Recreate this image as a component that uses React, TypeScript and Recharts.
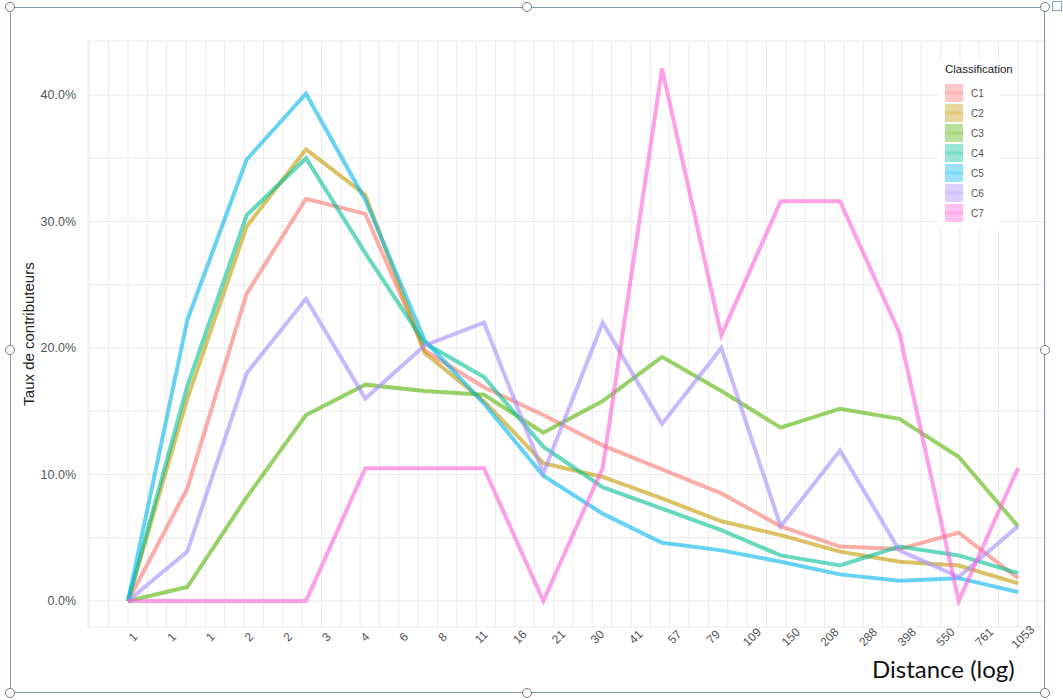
import React from "react";
import { LineChart, Line, XAxis, YAxis, CartesianGrid } from "recharts";

// distance classes (16 plotted points)
const steps = [1, 2, 3, 4, 5, 6, 7, 8, 9, 10, 11, 12, 13, 14, 15, 16];

// axis labels shown under the plot
const distanceLabels = [
    "1", "1", "1", "2", "2", "3", "4", "6", "8", "11", "16", "21",
    "30", "41", "57", "79", "109", "150", "208", "288", "398", "550", "761", "1053",
];

const yTicks = [0, 5, 10, 15, 20, 25, 30, 35, 40];

// taux de contributeurs, in %
const c1 = [0, 8.9, 24.3, 31.8, 30.6, 19.8, 16.9, 14.7, 12.3, 10.4, 8.5, 5.9, 4.3, 4.1, 5.4, 1.8];
const c2 = [0, 16.0, 29.6, 35.7, 32.1, 19.6, 15.8, 10.9, 9.8, 8.1, 6.3, 5.2, 3.9, 3.1, 2.8, 1.4];
const c3 = [0, 1.1, 8.2, 14.7, 17.1, 16.6, 16.3, 13.3, 15.8, 19.3, 16.6, 13.7, 15.2, 14.4, 11.4, 5.9];
const c4 = [0, 17.0, 30.5, 35.0, 27.5, 20.4, 17.7, 12.2, 9.0, 7.3, 5.6, 3.6, 2.8, 4.3, 3.6, 2.2];
const c5 = [0, 22.2, 34.9, 40.1, 31.7, 20.6, 15.6, 9.9, 6.9, 4.6, 4.0, 3.1, 2.1, 1.6, 1.8, 0.7];
const c6 = [0, 3.9, 18.0, 23.9, 16.0, 20.2, 22.0, 10.1, 22.0, 14.0, 20.0, 5.9, 11.9, 4.0, 1.9, 5.9];
const c7 = [0, 0, 0, 0, 10.5, 10.5, 10.5, 0, 10.5, 42.1, 21.0, 31.6, 31.6, 21.2, 0, 10.5];

const seriesNames = ["C1", "C2", "C3", "C4", "C5", "C6", "C7"];
const seriesColors = ["#F8766D", "#C49A00", "#53B400", "#00C094", "#00B6EB", "#A58AFF", "#FB61D7"];
const seriesValues = [c1, c2, c3, c4, c5, c6, c7];

const data = steps.map((step, i) => {
    const row: Record<string, number> = { step };
    seriesNames.forEach((name, s) => {
        row[name] = seriesValues[s][i];
    });
    return row;
});

// grid every half label step
const gridTicks = Array.from({ length: 50 }, (_, k) => -1 + k / 2);

const font = '"Liberation Sans", Arial, sans-serif';

const DistanceTick = ({ x, y, payload }: any) => {
    const v = payload.value;
    if (!Number.isInteger(v) || v < 0 || v >= distanceLabels.length) return <g />;
    return (
        <g transform={`translate(${x + 5},${y + 10})`}>
            <text
                textAnchor="middle"
                dominantBaseline="central"
                transform="rotate(-45)"
                fontSize={12}
                fill="#555"
                fontFamily={font}
            >
                {distanceLabels[v]}
            </text>
        </g>
    );
};

const YTitle = (props: any) => {
    const vb = props.viewBox;
    return (
        <text
            transform={`translate(${vb.x + 28},${vb.y + vb.height / 2}) rotate(-90)`}
            textAnchor="middle"
            dominantBaseline="central"
            fontSize={15}
            fill="#222"
            fontFamily={font}
        >
            Taux de contributeurs
        </text>
    );
};

const handles = [
    [10, 7], [527, 7], [1045, 7],
    [10, 350], [1045, 350],
    [10, 693], [527, 693], [1045, 693],
];

export default function App() {
    return (
        <div style={{ position: "absolute", left: 0, top: 0, width: 1063, height: 700, background: "#fff", overflow: "hidden" }}>
            <LineChart width={1063} height={700} data={data} margin={{ top: 41, right: 18, bottom: 43, left: 0 }}>
                <CartesianGrid xAxisId="lab" stroke="#ebebeb" strokeWidth={1} />
                <XAxis
                    xAxisId="lab"
                    dataKey="step"
                    type="number"
                    domain={[-1.034, 23.7]}
                    allowDataOverflow
                    ticks={gridTicks}
                    interval={0}
                    tick={<DistanceTick />}
                    tickLine={false}
                    axisLine={false}
                    tickSize={0}
                    tickMargin={0}
                    height={30}
                />
                <XAxis
                    xAxisId="pts"
                    dataKey="step"
                    type="category"
                    scale="point"
                    padding={{ left: 40, right: 27 }}
                    hide
                    height={0}
                />
                <YAxis
                    type="number"
                    domain={[-2.06, 44.27]}
                    allowDataOverflow
                    ticks={yTicks}
                    interval={0}
                    width={88}
                    tickFormatter={(v: number) => (v % 10 === 0 ? `${v.toFixed(1)}%` : "")}
                    tick={{ fill: "#555", fontSize: 12.5, fontFamily: font }}
                    tickLine={false}
                    axisLine={false}
                    tickSize={0}
                    tickMargin={12}
                    label={{ content: <YTitle /> }}
                />
                {seriesNames.map((name, s) => (
                    <Line
                        key={name}
                        xAxisId="pts"
                        type="linear"
                        dataKey={name}
                        stroke={seriesColors[s]}
                        strokeOpacity={0.6}
                        strokeWidth={4}
                        dot={false}
                        activeDot={false}
                        isAnimationActive={false}
                    />
                ))}
            </LineChart>

            {/* legend */}
            <div style={{ position: "absolute", left: 938, top: 62, width: 62, background: "#fff", fontFamily: font, paddingBottom: 4 }}>
                <div style={{ fontSize: 11.5, color: "#222", marginLeft: 7, height: 21, lineHeight: "14px", whiteSpace: "nowrap" }}>
                    Classification
                </div>
                {seriesNames.map((name, s) => (
                    <div key={name} style={{ display: "flex", alignItems: "center", height: 20 }}>
                        <svg width={18} height={20} style={{ marginLeft: 7 }}>
                            <rect x={0} y={1} width={18} height={18} fill={seriesColors[s]} fillOpacity={0.4} />
                            <line x1={0} x2={18} y1={10} y2={10} stroke={seriesColors[s]} strokeOpacity={0.2} strokeWidth={3} />
                        </svg>
                        <span style={{ fontSize: 10, color: "#555", marginLeft: 8 }}>{name}</span>
                    </div>
                ))}
            </div>

            {/* x title */}
            <div style={{ position: "absolute", left: 872, top: 654, fontFamily: "Lato, 'Open Sans', sans-serif", fontSize: 24, color: "#111", whiteSpace: "nowrap" }}>
                Distance (log)
            </div>

            {/* selection frame */}
            <div style={{ position: "absolute", left: 10, top: 7, width: 1035, height: 686, border: "1.5px solid #8397b3", boxSizing: "border-box" }} />
            {handles.map(([hx, hy], i) => (
                <div
                    key={i}
                    style={{
                        position: "absolute",
                        left: hx - 5,
                        top: hy - 5,
                        width: 10,
                        height: 10,
                        borderRadius: "50%",
                        border: "1.2px solid #7a7a7a",
                        background: "#fff",
                        boxSizing: "border-box",
                    }}
                />
            ))}
            <div style={{ position: "absolute", left: 1052, top: 1, width: 10, height: 10, border: "1px solid #8aa6cf", boxSizing: "border-box" }} />
        </div>
    );
}
